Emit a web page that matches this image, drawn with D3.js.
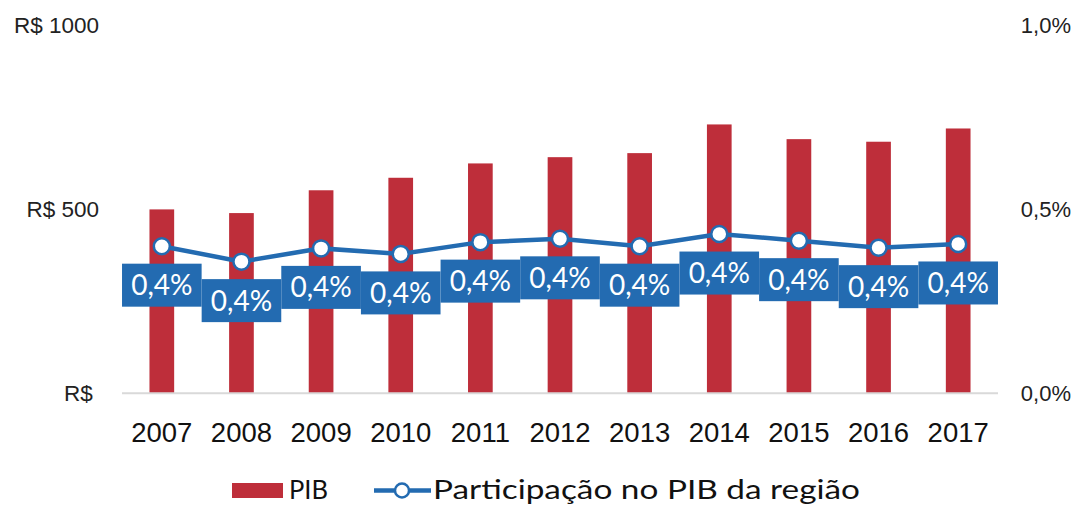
<!DOCTYPE html>
<html>
<head>
<meta charset="utf-8">
<script src="https://cdn.jsdelivr.net/npm/d3@7"></script>
<style>
  body { margin: 0; background: #fff; }
  svg { display: block; font-family: 'Century Gothic', 'Lato', sans-serif; }
</style>
</head>
<body>
<svg id="chart"></svg>
<script>
const years = ['2007', '2008', '2009', '2010', '2011', '2012', '2013', '2014', '2015', '2016', '2017'];
const pib = [500, 490, 552, 586, 625, 642, 653, 731, 691, 684, 720];
const participacao = [0.400, 0.358, 0.394, 0.379, 0.411, 0.420, 0.400, 0.433, 0.415, 0.396, 0.406];
const leftTicks = [0, 500, 1000];
const rightTicks = [0, 0.5, 1];

const width = 1078;
const height = 505;

const red = '#BE2E3A';
const blue = '#236BB1';

const ptBR = d3.formatLocale({ decimal: ',', thousands: '.', grouping: [3], currency: ['R$ ', ''] });
const pct = ptBR.format('.1f');

const svg = d3.select('#chart')
  .attr('width', width)
  .attr('height', height);

const x = d3.scaleBand()
  .domain(years)
  .range([122, 998])
  .paddingInner(0.69)
  .paddingOuter(0.345);

const y = d3.scaleLinear().domain([0, 1000]).range([393.3, 25.5]);
const y2 = d3.scaleLinear().domain([0, 1]).range([393.3, 25.5]);

const cx = d => x(d) + x.bandwidth() / 2;

// left axis
const leftAxis = svg.append('g')
  .attr('transform', 'translate(99,0)')
  .call(d3.axisLeft(y).tickValues(leftTicks).tickSize(0).tickPadding(0)
    .tickFormat(v => v ? 'R$ ' + v : 'R$\u00a0'));
leftAxis.select('.domain').remove();
leftAxis.selectAll('text')
  .attr('font-size', 22.5)
  .attr('font-family', null)
  .attr('fill', '#222');

// right axis
const rightAxis = svg.append('g')
  .attr('transform', 'translate(1071,0)')
  .call(d3.axisLeft(y2).tickValues(rightTicks).tickSize(0).tickPadding(0)
    .tickFormat(v => pct(v) + '%'));
rightAxis.select('.domain').remove();
rightAxis.selectAll('text')
  .attr('font-size', 22)
  .attr('font-family', null)
  .attr('fill', '#222');

// bars
svg.append('g')
  .selectAll('rect')
  .data(years)
  .enter()
  .append('rect')
  .attr('x', d => x(d))
  .attr('y', (d, i) => y(pib[i]))
  .attr('width', x.bandwidth())
  .attr('height', (d, i) => y(0) - y(pib[i]))
  .attr('fill', red);

// baseline
svg.append('line')
  .attr('x1', 122)
  .attr('x2', 998)
  .attr('y1', y(0))
  .attr('y2', y(0))
  .attr('stroke', '#d9d9d9')
  .attr('stroke-width', 2);

// x axis labels
const bottomAxis = svg.append('g')
  .attr('transform', 'translate(0,422)')
  .call(d3.axisBottom(x).tickSize(0).tickPadding(0));
bottomAxis.select('.domain').remove();
bottomAxis.selectAll('text')
  .attr('font-size', 27.5)
  .attr('font-family', null)
  .attr('fill', '#111');

// line
const line = d3.line()
  .x(d => cx(d))
  .y((d, i) => y2(participacao[i]));

svg.append('path')
  .datum(years)
  .attr('d', line)
  .attr('fill', 'none')
  .attr('stroke', blue)
  .attr('stroke-width', 4.5);

svg.append('g')
  .selectAll('circle')
  .data(years)
  .enter()
  .append('circle')
  .attr('cx', d => cx(d))
  .attr('cy', (d, i) => y2(participacao[i]))
  .attr('r', 8)
  .attr('fill', '#fff')
  .attr('stroke', blue)
  .attr('stroke-width', 2.5);

// data labels
const label = svg.append('g')
  .selectAll('g')
  .data(years)
  .enter()
  .append('g')
  .attr('transform', (d, i) => `translate(${cx(d)},${y2(participacao[i]) + 39})`);

label.append('rect')
  .attr('x', -39.8)
  .attr('y', -21.5)
  .attr('width', 79.6)
  .attr('height', 43)
  .attr('fill', blue);

label.append('text')
  .attr('text-anchor', 'middle')
  .attr('dy', '0.36em')
  .attr('font-size', 28)
  .attr('fill', '#fff')
  .text((d, i) => pct(participacao[i]) + '%');

// legend
const legend = svg.append('g');

legend.append('rect')
  .attr('x', 232)
  .attr('y', 483)
  .attr('width', 51)
  .attr('height', 15)
  .attr('fill', red);

legend.append('text')
  .attr('x', 289)
  .attr('y', 499)
  .attr('font-size', 27.5)
  .attr('fill', '#111')
  .attr('textLength', 39)
  .attr('lengthAdjust', 'spacingAndGlyphs')
  .text('PIB');

legend.append('line')
  .attr('x1', 374)
  .attr('x2', 431)
  .attr('y1', 490.5)
  .attr('y2', 490.5)
  .attr('stroke', blue)
  .attr('stroke-width', 4.5);

legend.append('circle')
  .attr('cx', 402)
  .attr('cy', 490.5)
  .attr('r', 7)
  .attr('fill', '#fff')
  .attr('stroke', blue)
  .attr('stroke-width', 2.5);

legend.append('text')
  .attr('x', 433)
  .attr('y', 499)
  .attr('font-size', 27.5)
  .attr('fill', '#111')
  .attr('textLength', 427)
  .attr('lengthAdjust', 'spacingAndGlyphs')
  .text('Participação no PIB da região');
</script>
</body>
</html>
